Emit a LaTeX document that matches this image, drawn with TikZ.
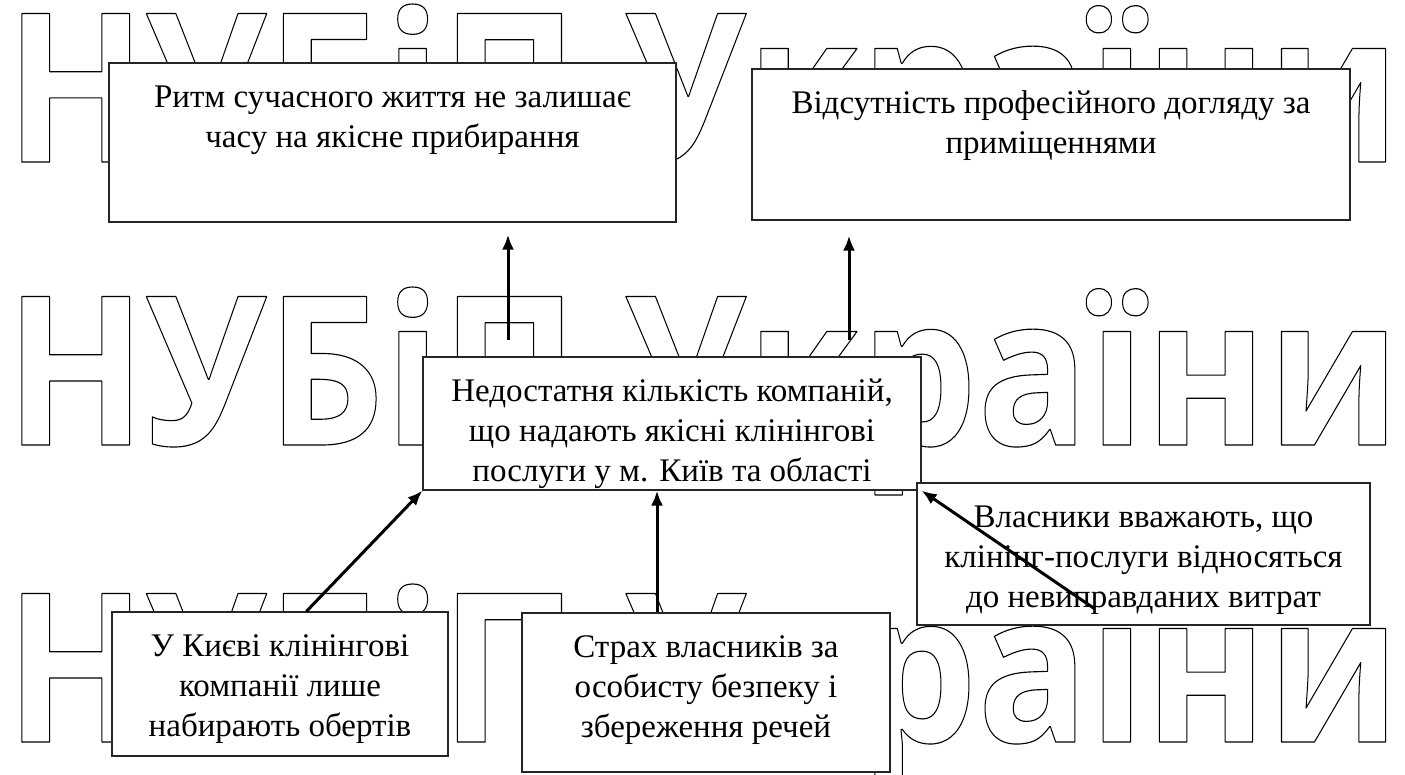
\documentclass[tikz,border=0pt]{standalone}
\usepackage{fontspec}
\setmainfont{Liberation Serif}
\newfontfamily\wmfont{Open Sans}
\usetikzlibrary{arrows.meta}
\newcommand{\wmline}{\resizebox{1395pt}{158pt}{\wmfont\bfseries\fontsize{200pt}{200pt}\selectfont\special{pdf:literal direct 1 Tr 1.1 w 1 j 0 G}НУБіП України\special{pdf:literal direct 0 Tr}}}
\newcommand{\boxtxt}[3]{\parbox[c][#2][t]{#1}{\centering\fontsize{33pt}{40pt}\selectfont\rule{0pt}{44pt}#3}}
\begin{document}
\begin{tikzpicture}[x=1pt,y=-1pt,
  box/.style={draw=black!85, fill=white, line width=1.2pt, inner sep=0pt},
  arr/.style={line width=3pt, -{Latex[length=15pt,width=12pt]}},
  wm/.style={anchor=base west, inner sep=0pt}]
\useasboundingbox (0,0) rectangle (1405,774);
% watermark
\node[wm] (wm1) at (5,162) {\wmline};
\node[wm] (wm2) at (5,445) {\wmline};
\node[wm] (wm3) at (5,742) {\wmline};
% boxes
\node[box] (tl) at (392.5,142.5) {\boxtxt{567pt}{159pt}{Ритм сучасного життя не залишає\\часу на якісне прибирання}};
\node[box] (tr) at (1051,144.5) {\boxtxt{598pt}{151pt}{Відсутність професійного догляду за\\приміщеннями}};
\node[box] (ctr) at (672,423.5) {\boxtxt{498pt}{133pt}{Недостатня кількість компаній,\\що надають якісні клінінгові\\послуги у м. Київ та області}};
\node[box] (vl) at (1143.5,554) {\boxtxt{453pt}{142pt}{Власники вважають, що\\клінінг-послуги відносяться\\до невиправданих витрат}};
\node[box] (bl) at (280,684) {\boxtxt{336pt}{144pt}{У Києві клінінгові\\компанії лише\\набирають обертів}};
\node[box] (bm) at (706,692.5) {\boxtxt{368pt}{159pt}{Страх власників за\\особисту безпеку і\\збереження речей}};
% connector ends
\coordinate (a1) at (508,340);
\coordinate (b1) at (849,340);
\coordinate (c1) at ([xshift=195pt]bl.north west);
\coordinate (d1) at ([xshift=-49pt]bm.north);
\coordinate (e1) at (1095,609);
% arrows
\draw[arr, shorten >=12pt] (a1) -- (a1 |- tl.south);
\draw[arr, shorten >=15pt] (b1) -- (b1 |- tr.south);
\draw[arr] (c1) -- (ctr.south west);
\draw[arr] (d1) -- (d1 |- ctr.south);
\draw[arr] (e1) -- (ctr.south east);
\end{tikzpicture}
\end{document}
